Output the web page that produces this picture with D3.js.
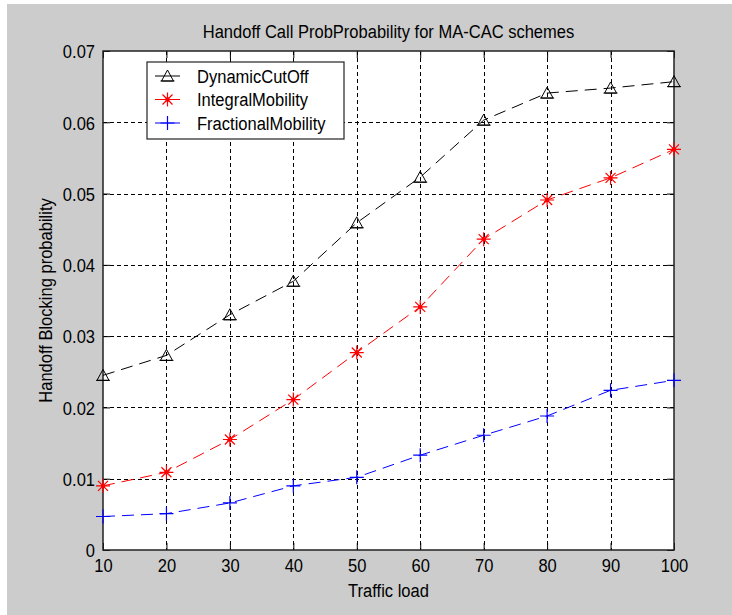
<!DOCTYPE html>
<html>
<head>
<meta charset="utf-8">
<script src="https://cdn.jsdelivr.net/npm/d3@7"></script>
<style>
  html, body { margin: 0; padding: 0; background: #ffffff; }
  svg { display: block; }
  text { font-family: "Liberation Sans Narrow", "Liberation Sans", Arial, sans-serif; fill: #000; }
</style>
</head>
<body>
<script>
// Traffic load values on the x axis
const trafficLoad = [10, 20, 30, 40, 50, 60, 70, 80, 90, 100];

// Handoff blocking probability per scheme
const dynamicCutOff      = [0.0245, 0.0273, 0.0330, 0.0377, 0.0459, 0.0523, 0.0603, 0.0641, 0.0648, 0.0657];
const integralMobility   = [0.0090, 0.0109, 0.0155, 0.0211, 0.0277, 0.0341, 0.0436, 0.0491, 0.0522, 0.0562];
const fractionalMobility = [0.0047, 0.0051, 0.0066, 0.0090, 0.0102, 0.0133, 0.0161, 0.0188, 0.0224, 0.0238];

const seriesNames = ["DynamicCutOff", "IntegralMobility", "FractionalMobility"];
const xTicks = [10, 20, 30, 40, 50, 60, 70, 80, 90, 100];
const yTicks = [0, 0.01, 0.02, 0.03, 0.04, 0.05, 0.06, 0.07];

const titleText = "Handoff Call ProbProbability for MA-CAC schemes";
const xLabel = "Traffic load";
const yLabel = "Handoff Blocking probability";

const W = 732, H = 615;
const plot = { left: 103, top: 51, right: 674, bottom: 550 };
const fontSize = 19;
const SX = 0.87; // horizontal squeeze for a condensed look

const svg = d3.select("body").append("svg").attr("width", W).attr("height", H);

// figure background
svg.append("rect").attr("x", 7).attr("y", 4).attr("width", W - 7).attr("height", H - 4).attr("fill", "#cccccc");

const x = d3.scaleLinear().domain([10, 100]).range([plot.left, plot.right]);
const y = d3.scaleLinear().domain([0, 0.07]).range([plot.bottom, plot.top]);

// axes area
svg.append("rect")
  .attr("x", plot.left).attr("y", plot.top)
  .attr("width", plot.right - plot.left).attr("height", plot.bottom - plot.top)
  .attr("fill", "#ffffff");

// dotted grid
const grid = svg.append("g").attr("stroke", "#000").attr("stroke-width", 1).attr("stroke-dasharray", "4,3");
grid.selectAll("line.gx").data(xTicks.slice(1, -1)).join("line")
  .attr("x1", d => Math.round(x(d)) + 0.5).attr("x2", d => Math.round(x(d)) + 0.5)
  .attr("y1", plot.top).attr("y2", plot.bottom);
grid.selectAll("line.gy").data(yTicks.slice(1, -1)).join("line")
  .attr("y1", d => Math.round(y(d)) + 0.5).attr("y2", d => Math.round(y(d)) + 0.5)
  .attr("x1", plot.left).attr("x2", plot.right);

// axes with inward ticks on all four sides
const tickLen = 7;
const fmtY = d => d === 0 ? "0" : d3.format(".2f")(d);

const gxB = svg.append("g").attr("transform", `translate(0,${plot.bottom})`)
  .call(d3.axisBottom(x).tickValues(xTicks).tickSizeInner(-tickLen).tickSizeOuter(0).tickPadding(9));
const gxT = svg.append("g").attr("transform", `translate(0,${plot.top})`)
  .call(d3.axisTop(x).tickValues(xTicks).tickSizeInner(-tickLen).tickSizeOuter(0).tickFormat(""));
const gyL = svg.append("g").attr("transform", `translate(${plot.left},0)`)
  .call(d3.axisLeft(y).tickValues(yTicks).tickSizeInner(-tickLen).tickSizeOuter(0).tickPadding(8).tickFormat(fmtY));
const gyR = svg.append("g").attr("transform", `translate(${plot.right},0)`)
  .call(d3.axisRight(y).tickValues(yTicks).tickSizeInner(-tickLen).tickSizeOuter(0).tickFormat(""));

[gxB, gxT, gyL, gyR].forEach(g => {
  g.attr("font-family", null).attr("font-size", null);
  g.select(".domain").remove();
  g.selectAll(".tick line").attr("stroke", "#000").attr("stroke-width", 1);
  g.selectAll(".tick text").attr("font-size", fontSize).attr("fill", "#000")
    .attr("transform", `scale(${SX},1)`);
});
gyL.selectAll(".tick text").attr("x", -8 / SX).attr("dy", "0.36em");
gxB.selectAll(".tick text").attr("dy", "0.71em");

// axes box
svg.append("rect")
  .attr("x", plot.left).attr("y", plot.top)
  .attr("width", plot.right - plot.left).attr("height", plot.bottom - plot.top)
  .attr("fill", "none").attr("stroke", "#222").attr("stroke-width", 1.5);

// markers
function drawMarker(g, type, color) {
  if (type === "triangle") {
    g.append("path").attr("d", "M0,-6 L6,5 L-6,5 Z M-7,5 L7,5")
      .attr("fill", "none").attr("stroke", color).attr("stroke-width", 1);
  } else if (type === "star") {
    g.append("path").attr("d", "M-7,0 L7,0 M0,-7 L0,7 M-5,-5 L5,5 M-5,5 L5,-5")
      .attr("fill", "none").attr("stroke", color).attr("stroke-width", 1.2);
    g.append("circle").attr("r", 2.2).attr("fill", color);
  } else {
    g.append("path").attr("d", "M-7,0 L7,0 M0,-7 L0,7")
      .attr("fill", "none").attr("stroke", color).attr("stroke-width", 1.2);
  }
}

const series = [
  { name: seriesNames[0], values: dynamicCutOff, color: "#000000", marker: "triangle" },
  { name: seriesNames[1], values: integralMobility, color: "#ff0000", marker: "star" },
  { name: seriesNames[2], values: fractionalMobility, color: "#0000ff", marker: "plus" }
];

const line = d3.line().x(d => x(d[0])).y(d => y(d[1]));

series.forEach(s => {
  const pts = trafficLoad.map((t, i) => [t, s.values[i]]);
  svg.append("path").datum(pts).attr("d", line)
    .attr("fill", "none").attr("stroke", s.color).attr("stroke-width", 1)
    .attr("stroke-dasharray", "12,7");
  svg.append("g").selectAll("g").data(pts).join("g")
    .attr("transform", d => `translate(${x(d[0])},${y(d[1])})`)
    .each(function () { drawMarker(d3.select(this), s.marker, s.color); });
});

// text placed at (tx, ty) with the horizontal squeeze applied
function label(parent, tx, ty, str, anchor, rotate) {
  const t = parent.append("text")
    .attr("transform", `translate(${tx},${ty})${rotate ? " rotate(" + rotate + ")" : ""} scale(${SX},1)`)
    .attr("font-size", fontSize)
    .attr("text-anchor", anchor || "start")
    .text(str);
  return t;
}

// legend
const legend = svg.append("g");
legend.append("rect").attr("x", 147).attr("y", 62).attr("width", 197).attr("height", 77)
  .attr("fill", "#ffffff").attr("stroke", "#222").attr("stroke-width", 1.2);
series.forEach((s, i) => {
  const ly = 76 + i * 23.5;
  legend.append("line").attr("x1", 155).attr("x2", 180).attr("y1", ly).attr("y2", ly)
    .attr("stroke", s.color).attr("stroke-width", 1);
  drawMarker(legend.append("g").attr("transform", `translate(167.5,${ly})`), s.marker, s.color);
  label(legend, 197, ly, s.name).attr("dy", "0.36em");
});

// title and axis labels
label(svg, (plot.left + plot.right) / 2, 38, titleText, "middle");
label(svg, (plot.left + plot.right) / 2, 597, xLabel, "middle");
label(svg, 52, (plot.top + plot.bottom) / 2, yLabel, "middle", -90);
</script>
</body>
</html>
